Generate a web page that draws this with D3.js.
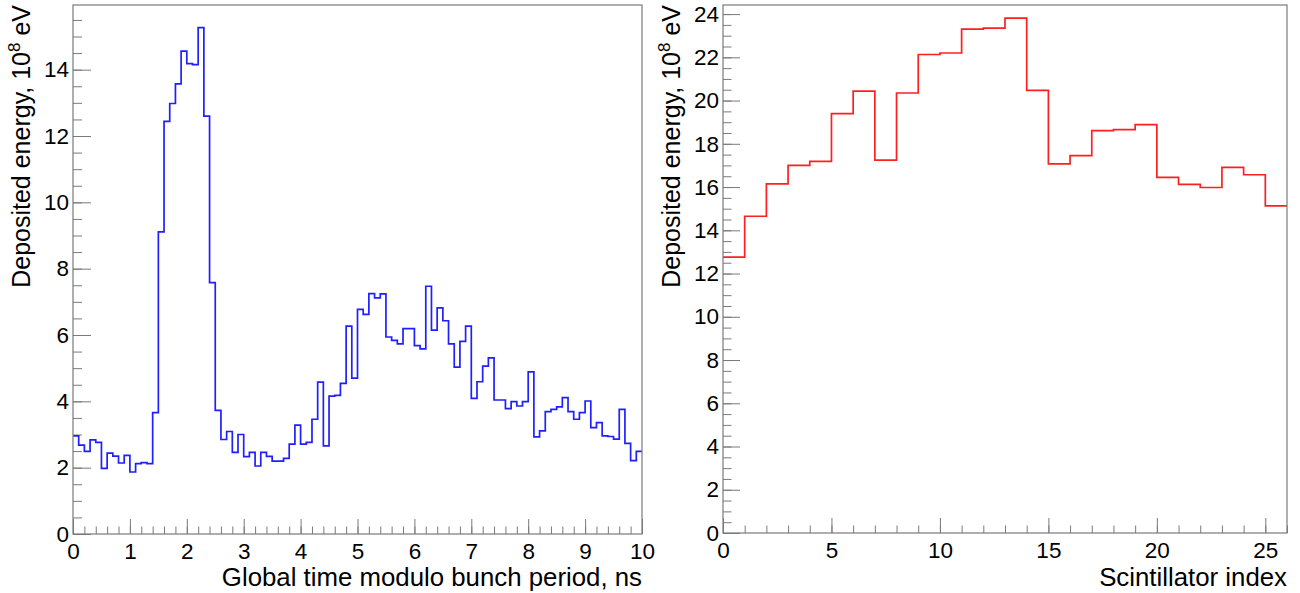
<!DOCTYPE html>
<html>
<head>
<meta charset="utf-8">
<script src="https://cdn.jsdelivr.net/npm/d3@7"></script>
<style>
  html, body { margin: 0; padding: 0; background: #fff; }
  svg { display: block; font-family: "Liberation Sans", Arial, Helvetica, sans-serif; }
</style>
</head>
<body>
<svg id="chart" width="1300" height="593"></svg>
<script>
// ---------- DATA ----------
// Left: energy per time bin (0.1 ns bins, 0..10 ns), units 1e8 eV
const timeValues = [
  2.96, 2.68, 2.49, 2.84, 2.76, 1.98, 2.44, 2.35, 2.14, 2.37,
  1.87, 2.12, 2.15, 2.12, 3.66, 9.11, 12.44, 12.98, 13.57, 14.56,
  14.18, 14.15, 15.27, 12.60, 7.58, 3.73, 2.85, 3.09, 2.46, 3.00,
  2.33, 2.46, 2.05, 2.46, 2.34, 2.20, 2.20, 2.28, 2.71, 3.28,
  2.71, 2.76, 3.46, 4.58, 2.66, 4.16, 4.18, 4.54, 6.27, 4.70,
  6.77, 6.62, 7.25, 7.12, 7.24, 5.94, 5.84, 5.73, 6.19, 6.19,
  5.68, 5.58, 7.47, 6.15, 6.82, 6.43, 5.73, 5.03, 5.81, 6.27,
  4.09, 4.59, 5.06, 5.31, 4.04, 4.04, 3.78, 3.99, 3.86, 3.99,
  4.89, 2.93, 3.11, 3.69, 3.76, 3.83, 4.11, 3.69, 3.46, 3.66,
  4.01, 3.21, 3.36, 2.96, 2.94, 2.86, 3.76, 2.73, 2.21, 2.49
];
const timeRange = [0, 10];
const timeTicks = [0, 1, 2, 3, 4, 5, 6, 7, 8, 9, 10];

// Right: energy per scintillator index (0..25)
const scintValues = [
  12.76, 14.65, 16.15, 17.00, 17.19, 19.40, 20.44, 17.25, 20.35, 22.13,
  22.20, 23.30, 23.35, 23.81, 20.47, 17.07, 17.45, 18.61, 18.66, 18.89,
  16.45, 16.12, 15.98, 16.91, 16.57, 15.13
];
const scintRange = [0, 26];
const scintTicks = [0, 5, 10, 15, 20, 25];

const leftYTicks = [0, 2, 4, 6, 8, 10, 12, 14];
const rightYTicks = [0, 2, 4, 6, 8, 10, 12, 14, 16, 18, 20, 22, 24];

const yTitleMain = "Deposited energy, 10";
const yTitleSup = "8";
const yTitleEnd = " eV";
const leftXTitle = "Global time modulo bunch period, ns";
const rightXTitle = "Scintillator index";

// ---------- DRAW ----------
const svg = d3.select("#chart");
const frameColor = "#7a7a7a";
const fontFam = '"Liberation Sans", Arial, Helvetica, sans-serif';

function drawPanel(opts) {
  const g = svg.append("g");
  const x = d3.scaleLinear().domain(opts.xDomain).range([opts.left, opts.right]);
  const y = d3.scaleLinear().domain(opts.yDomain).range([opts.bottom, opts.top]);

  const xMinor = d3.range(opts.xDomain[0], opts.xDomain[1] + 1e-9, opts.xMinorStep)
      .map(v => +v.toFixed(6));
  const yMinor = d3.range(opts.yDomain[0], opts.yDomain[1], opts.yMinorStep)
      .map(v => +v.toFixed(6));

  const gxMinor = g.append("g").attr("transform", `translate(0,${opts.bottom})`)
    .call(d3.axisBottom(x).tickValues(xMinor).tickSizeInner(-opts.xMinorLen).tickSizeOuter(0).tickFormat(""));
  const gyMinor = g.append("g").attr("transform", `translate(${opts.left},0)`)
    .call(d3.axisLeft(y).tickValues(yMinor).tickSizeInner(-opts.yMinorLen).tickSizeOuter(0).tickFormat(""));

  const gx = g.append("g").attr("transform", `translate(0,${opts.bottom})`)
    .call(d3.axisBottom(x).tickValues(opts.xTicks).tickSizeInner(-opts.xMajorLen).tickSizeOuter(0)
      .tickPadding(9).tickFormat(d3.format("d")));
  const gy = g.append("g").attr("transform", `translate(${opts.left},0)`)
    .call(d3.axisLeft(y).tickValues(opts.yTicks).tickSizeInner(-opts.yMajorLen).tickSizeOuter(0)
      .tickPadding(4).tickFormat(d3.format("d")));

  [gxMinor, gyMinor, gx, gy].forEach(a => {
    a.select(".domain").remove();
    a.selectAll("line").attr("stroke", frameColor).attr("stroke-width", 1);
    a.selectAll("text").attr("fill", "#000").attr("font-size", 22.5).attr("font-family", fontFam);
  });

  // histogram step path
  const n = opts.values.length;
  const bw = (opts.xDomain[1] - opts.xDomain[0]) / n;
  const pts = [];
  opts.values.forEach((v, i) => {
    pts.push([x(opts.xDomain[0] + i * bw), y(v)]);
    pts.push([x(opts.xDomain[0] + (i + 1) * bw), y(v)]);
  });
  g.append("path")
    .attr("d", d3.line()(pts))
    .attr("fill", "none")
    .attr("stroke", opts.color)
    .attr("stroke-width", 1.7)
    .attr("stroke-linejoin", "miter");

  // frame
  g.append("rect")
    .attr("x", opts.left).attr("y", opts.top)
    .attr("width", opts.right - opts.left).attr("height", opts.bottom - opts.top)
    .attr("fill", "none").attr("stroke", frameColor).attr("stroke-width", 1.2);

  // x title
  g.append("text")
    .attr("x", opts.right).attr("y", 586)
    .attr("text-anchor", "end").attr("font-size", 25.8).attr("fill", "#000")
    .attr("font-family", fontFam)
    .text(opts.xTitle);

  // y title
  const yt = g.append("text")
    .attr("transform", `translate(${opts.yTitleX},${opts.top}) rotate(-90)`)
    .attr("text-anchor", "end").attr("font-size", 25).attr("fill", "#000")
    .attr("font-family", fontFam);
  yt.append("tspan").text(yTitleMain);
  yt.append("tspan").attr("dy", -10).attr("font-size", 17).text(yTitleSup);
  yt.append("tspan").attr("dy", 10).text(yTitleEnd);
}

drawPanel({
  values: timeValues, xDomain: timeRange, yDomain: [0, 15.95],
  xTicks: timeTicks, yTicks: leftYTicks,
  xMinorStep: 0.2, yMinorStep: 0.5,
  left: 73, right: 642, top: 5, bottom: 534,
  xMajorLen: 15, xMinorLen: 7.5, yMajorLen: 18, yMinorLen: 9,
  color: "#1f1fff", xTitle: leftXTitle, yTitleX: 30
});

drawPanel({
  values: scintValues, xDomain: scintRange, yDomain: [0, 24.42],
  xTicks: scintTicks, yTicks: rightYTicks,
  xMinorStep: 1, yMinorStep: 0.5,
  left: 723, right: 1287, top: 5, bottom: 533,
  xMajorLen: 15, xMinorLen: 7.5, yMajorLen: 17, yMinorLen: 8.5,
  color: "#ff1f1f", xTitle: rightXTitle, yTitleX: 680
});
</script>
</body>
</html>
